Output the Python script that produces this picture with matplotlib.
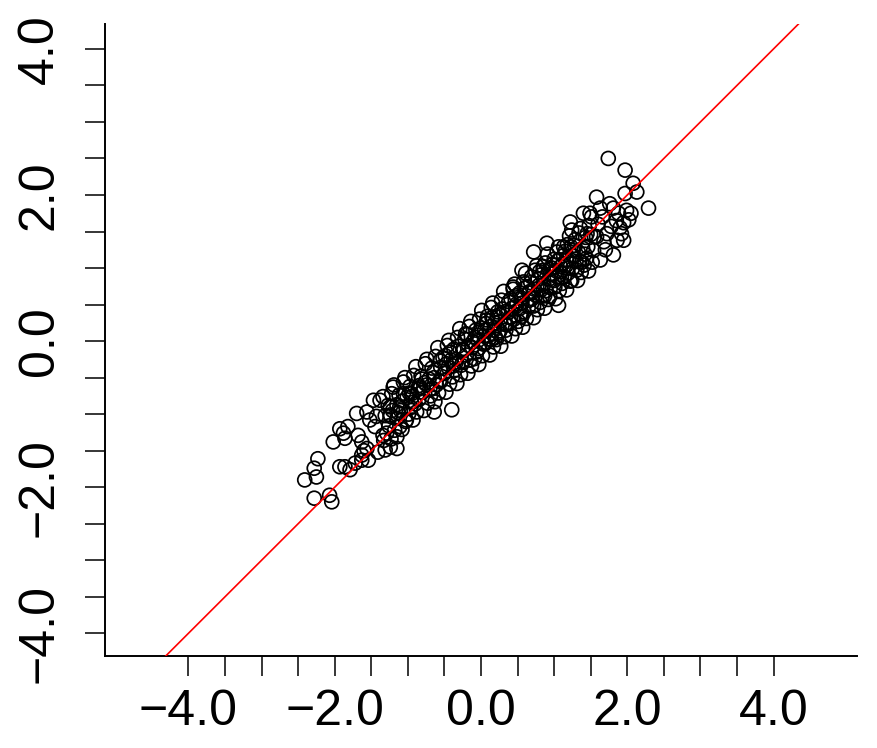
import matplotlib
matplotlib.use("Agg")
import matplotlib.pyplot as plt
import numpy as np

plt.rcParams['font.family'] = ['Liberation Sans', 'DejaVu Sans']

# points: left tail, dense core, right tail
tail_left_x = [-2.23, -2.28, -2.41, -2.25, -2.28, -2.07, -2.04, -1.93, -1.86, -1.72, -1.63, -1.54, -1.79,
               -2.02, -1.88, -1.93, -1.82, -1.86, -1.70, -1.68, -1.63, -1.56, -1.63, -1.47, -1.38, -1.43,
               -1.45, -1.34, -1.24, -1.15, -1.31, -1.52, -1.56, -1.24, -1.11, -1.06, -1.20, -0.95, -1.24,
               -1.11, -1.15, -1.02, -0.64, -0.40, -1.41, -1.60]
tail_left_y = [-1.61, -1.74, -1.90, -1.86, -2.15, -2.11, -2.20, -1.72, -1.72, -1.67, -1.63, -1.63, -1.76,
               -1.38, -1.26, -1.20, -1.17, -1.33, -0.99, -1.29, -1.38, -1.47, -1.56, -0.81, -0.81, -1.03,
               -1.17, -1.29, -1.45, -1.47, -1.49, -1.08, -0.97, -0.90, -0.90, -0.72, -0.63, -0.72, -1.03,
               -1.17, -1.31, -1.08, -0.97, -0.94, -1.52, -1.50]

core_x = [-1.33, -1.26, -1.31, -1.27, -1.34, -1.29,
          -1.18, -1.24, -1.15, -1.22, -1.19, -1.23,
          -1.15, -1.07, -1.10, -1.06, -1.12, -1.08,
          -1.03, -0.96, -1.01, -0.97, -1.04, -0.99,
          -0.88, -0.94, -0.85, -0.92, -0.89, -0.93,
          -0.85, -0.77, -0.80, -0.76, -0.82, -0.78,
          -0.73, -0.66, -0.71, -0.67, -0.74, -0.69,
          -0.58, -0.64, -0.55, -0.62, -0.59, -0.63,
          -0.55, -0.47, -0.50, -0.46, -0.52, -0.48,
          -0.43, -0.36, -0.41, -0.37, -0.44, -0.39,
          -0.28, -0.34, -0.25, -0.32, -0.29, -0.33,
          -0.25, -0.17, -0.20, -0.16, -0.22, -0.18,
          -0.13, -0.06, -0.11, -0.07, -0.14, -0.09,
          0.02, -0.04, 0.05, -0.02, 0.01, -0.03,
          0.05, 0.13, 0.10, 0.14, 0.08, 0.12,
          0.17, 0.24, 0.19, 0.23, 0.16, 0.21,
          0.32, 0.26, 0.35, 0.28, 0.31, 0.27,
          0.35, 0.43, 0.40, 0.44, 0.38, 0.42,
          0.47, 0.54, 0.49, 0.53, 0.46, 0.51,
          0.62, 0.56, 0.65, 0.58, 0.61, 0.57,
          0.65, 0.73, 0.70, 0.74, 0.68, 0.72,
          0.77, 0.84, 0.79, 0.83, 0.76, 0.81,
          0.92, 0.86, 0.95, 0.88, 0.91, 0.87,
          0.95, 1.03, 1.00, 1.04, 0.98, 1.02,
          1.07, 1.14, 1.09, 1.13, 1.06, 1.11,
          1.22, 1.16, 1.25, 1.18, 1.21, 1.17,
          1.25, 1.33, 1.30, 1.34, 1.28, 1.32,
          1.37, 1.44, 1.39, 1.43, 1.36, 1.41,
          1.52, 1.46, 1.55, 1.48, 1.51, 1.47]
core_y = [-1.36, -1.16, -1.02, -0.88, -0.76, -1.26,
          -1.22, -1.01, -0.87, -0.72, -0.60, -1.34,
          -1.06, -0.82, -0.95, -0.56, -0.74, -1.21,
          -1.10, -0.91, -0.77, -0.62, -0.50, -1.00,
          -0.97, -0.76, -0.61, -0.47, -0.35, -1.08,
          -0.80, -0.57, -0.70, -0.31, -0.48, -0.95,
          -0.85, -0.65, -0.52, -0.37, -0.25, -0.75,
          -0.71, -0.50, -0.36, -0.21, -0.09, -0.83,
          -0.55, -0.31, -0.44, -0.06, -0.23, -0.70,
          -0.59, -0.40, -0.26, -0.11, 0.01, -0.49,
          -0.46, -0.25, -0.11, 0.05, 0.17, -0.58,
          -0.29, -0.06, -0.19, 0.20, 0.03, -0.44,
          -0.34, -0.15, -0.01, 0.15, 0.27, -0.24,
          -0.20, 0.01, 0.15, 0.30, 0.42, -0.32,
          -0.04, 0.20, 0.07, 0.46, 0.29, -0.19,
          -0.08, 0.11, 0.25, 0.40, 0.52, 0.02,
          0.06, 0.27, 0.41, 0.56, 0.68, -0.07,
          0.22, 0.45, 0.32, 0.71, 0.54, 0.07,
          0.17, 0.37, 0.51, 0.66, 0.78, 0.27,
          0.31, 0.52, 0.66, 0.81, 0.93, 0.19,
          0.47, 0.71, 0.58, 0.97, 0.80, 0.32,
          0.43, 0.62, 0.76, 0.91, 1.03, 0.53,
          0.57, 0.78, 0.92, 1.07, 1.19, 0.45,
          0.73, 0.96, 0.83, 1.22, 1.05, 0.58,
          0.69, 0.88, 1.02, 1.17, 1.29, 0.79,
          0.82, 1.03, 1.17, 1.32, 1.44, 0.70,
          0.99, 1.22, 1.09, 1.48, 1.31, 0.83,
          0.94, 1.13, 1.27, 1.42, 1.54, 1.04,
          1.08, 1.29, 1.43, 1.58, 1.70, 0.96]

inner_x = [-0.95, -0.86, -0.81, -0.74, -0.65, -0.61, -0.56, -0.45, -0.42, -0.35, -0.31, -0.24, -0.19,
           -0.12, -0.08, -0.03, 0.00, 0.04, 0.07, 0.11, 0.15, 0.18, 0.22, 0.26, 0.29, 0.33, 0.37, 0.41,
           0.45, 0.48, 0.52, 0.55, 0.59, 0.63, 0.66, 0.69, 0.75, 0.78, 0.82, 0.85, 0.89, 0.93, 0.97,
           1.01, 1.05, 1.08, 1.12, 1.15, 1.19, 1.23, 1.27,
           -1.21, -1.13, -0.98, -0.90, -0.83, -0.70, -0.57, -0.49, -0.38, -0.27, -0.21, -0.15, -0.05,
           0.03, 0.09, 0.14, 0.20, 0.25, 0.34, 0.39, 0.47, 0.56, 0.60, 0.67, 0.72, 0.80, 0.87, 0.94,
           1.00, 1.10, 1.18, 1.29, 1.35, 1.42, 1.50]
inner_y = [-0.84, -0.66, -0.52, -0.60, -0.43, -0.60, -0.27, -0.36, -0.15, -0.31, -0.07, -0.13, 0.09,
           -0.09, 0.05, -0.10, 0.18, 0.07, 0.24, 0.03, 0.32, 0.15, 0.33, 0.14, 0.44, 0.23, 0.39, 0.58,
           0.30, 0.62, 0.44, 0.59, 0.40, 0.74, 0.56, 0.88, 0.63, 0.85, 0.70, 0.97, 0.69, 0.85, 1.00,
           0.74, 1.10, 0.95, 1.06, 1.23, 0.93, 1.29, 1.16,
           -0.95, -0.98, -0.71, -0.86, -0.64, -0.66, -0.55, -0.20, -0.34, -0.33, 0.10, -0.26, 0.08,
           -0.04, 0.34, 0.02, 0.05, 0.36, 0.15, 0.25, 0.47, 0.34, 0.73, 0.68, 0.48, 0.95, 0.62, 0.98,
           1.12, 0.87, 1.00, 1.39, 1.09, 1.19, 1.46]

tail_right_x = [1.74, 1.97, 2.08, 2.13, 1.97, 1.58, 2.29, 1.81, 1.63, 1.76, 1.99, 2.02, 1.95, 1.86,
                1.63, 1.81, 1.72, 1.54, 1.45, 1.40, 1.49, 1.22, 1.24, 0.72, 0.90, 1.31, 1.04, 1.38,
                1.17, 1.26, 1.13, 0.85, 0.56, 0.44, 1.24, 0.94, 1.06, 1.60, 1.68, 1.90, 1.85, 1.66,
                1.78, 1.92, 1.70, 1.58, 1.88, 2.05, 1.95]
tail_right_y = [2.50, 2.34, 2.16, 2.04, 2.02, 1.97, 1.82, 1.82, 1.82, 1.88, 1.79, 1.66, 1.38, 1.38,
                1.11, 1.18, 1.47, 1.24, 1.47, 1.75, 1.75, 1.63, 1.52, 1.22, 1.34, 0.97, 0.88, 1.08,
                1.11, 1.24, 1.29, 1.02, 0.97, 0.74, 0.83, 0.61, 0.49, 1.60, 1.36, 1.55, 1.65, 1.70,
                1.57, 1.47, 1.25, 1.43, 1.75, 1.75, 1.62]

x = tail_left_x + core_x + inner_x + tail_right_x
y = tail_left_y + core_y + inner_y + tail_right_y

fig = plt.figure(figsize=(8.77, 7.48), dpi=100)
ax = fig.add_axes([105 / 877, 1 - 656 / 748, 752 / 877, 632 / 748])

ax.scatter(x, y, s=100, facecolors='none', edgecolors='black', linewidths=1.25, zorder=2)
ax.axline((0, 0), slope=1, color='red', lw=1.2, zorder=3)

ax.set_xlim(-5.14, 5.14)
ax.set_ylim(-4.31, 4.34)

for s in ['top', 'right']:
    ax.spines[s].set_visible(False)
for s in ['left', 'bottom']:
    ax.spines[s].set_linewidth(1.4)

major = [-4, -2, 0, 2, 4]
labels = ['\u22124.0', '\u22122.0', '0.0', '2.0', '4.0']
minor = np.arange(-4, 4.01, 0.5)
ax.set_xticks(major)
ax.set_xticklabels(labels)
ax.set_yticks(major)
ax.set_yticklabels(labels, rotation=90, va='center')
ax.set_xticks(minor, minor=True)
ax.set_yticks(minor, minor=True)
ax.tick_params(which='both', direction='out', length=14.5, width=1.1, color='black')
ax.tick_params(axis='x', which='major', labelsize=36, pad=9)
ax.tick_params(axis='y', which='major', labelsize=36, pad=16)

fig.savefig('out.png', dpi=100)
